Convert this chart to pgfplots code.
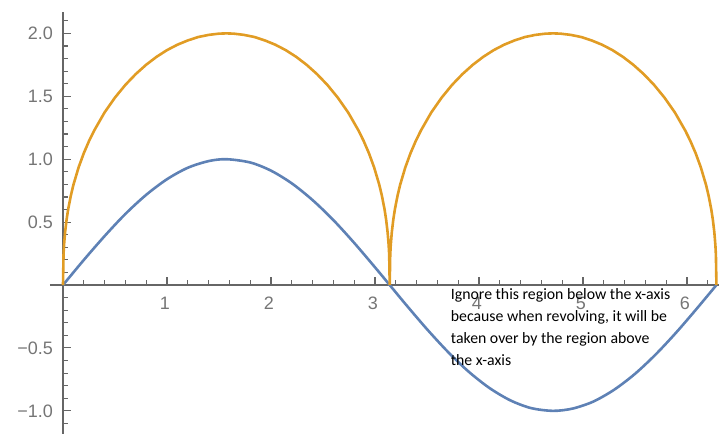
\documentclass[border=0pt]{standalone}
\usepackage{pgfplots}
\pgfplotsset{compat=1.18}
\usepackage{fontspec}
\setmainfont{Liberation Sans}
\newfontfamily\notefont{Carlito}
\definecolor{mblue}{HTML}{5E81B5}
\definecolor{morange}{HTML}{E19C24}
\definecolor{axgray}{HTML}{666666}
\definecolor{lblgray}{HTML}{757575}

\begin{document}
\begin{tikzpicture}
\begin{axis}[
  scale only axis,
  width=669pt, height=422pt,
  xmin=-0.125, xmax=6.308,
  ymin=-1.184, ymax=2.170,
  axis lines=middle,
  axis line style={-, axgray, line width=1.3pt},
  tick align=inside,
  major tick length=8pt, minor tick length=5pt,
  every tick/.style={axgray, line width=1.1pt},
  xtick={1,2,3,4,5,6},
  xticklabels={1,2,3,4,5,6},
  ytick={-1,-0.5,0.5,1,1.5,2},
  yticklabels={−1.0,−0.5,0.5,1.0,1.5,2.0},
  minor xtick={0.2,0.4,0.6,0.8,1.2,1.4,1.6,1.8,2.2,2.4,2.6,2.8,3.2,3.4,3.6,3.8,4.2,4.4,4.6,4.8,5.2,5.4,5.6,5.8,6.2},
  minor ytick={-1.1,-0.9,-0.8,-0.7,-0.6,-0.4,-0.3,-0.2,-0.1,0.1,0.2,0.3,0.4,0.6,0.7,0.8,0.9,1.1,1.2,1.3,1.4,1.6,1.7,1.8,1.9,2.1},
  ticklabel style={font=\fontsize{18}{20}\selectfont, text=lblgray, inner sep=0pt},
  xticklabel style={anchor=north, yshift=-12pt, xshift=-2pt},
  yticklabel style={anchor=east, xshift=-10pt},
]
  % sin x
  \addplot[mblue, line width=2.6pt, smooth] coordinates {
    (0,0) (0.2,0.199) (0.4,0.389) (0.6,0.565) (0.8,0.717) (1.0,0.841)
    (1.2,0.932) (1.4,0.985) (1.5708,1) (1.8,0.974) (2.0,0.909) (2.2,0.808)
    (2.4,0.675) (2.6,0.516) (2.8,0.335) (3.0,0.141) (3.1416,0)
    (3.3,-0.158) (3.5,-0.351) (3.7,-0.530) (3.9,-0.688) (4.1,-0.818)
    (4.3,-0.916) (4.5,-0.978) (4.7124,-1) (4.9,-0.982) (5.1,-0.926)
    (5.3,-0.832) (5.5,-0.706) (5.7,-0.551) (5.9,-0.374) (6.1,-0.182) (6.2832,0)
  };
  % upper curve, two arches
  \addplot[morange, line width=2.6pt] coordinates {
    (0,0) (0.005,0.240) (0.01,0.317) (0.02,0.418) (0.035,0.523) (0.05,0.603)
    (0.075,0.709) (0.1,0.796) (0.15,0.935) (0.2,1.048) (0.25,1.144) (0.3,1.228)
    (0.4,1.372) (0.5,1.490) (0.6,1.591) (0.7,1.677) (0.8,1.751) (0.9,1.814)
    (1.0,1.867) (1.1,1.910) (1.2,1.944) (1.3,1.971) (1.4,1.988) (1.5,1.998)
    (1.5708,2.0)
    (1.6416,1.998) (1.7416,1.988) (1.8416,1.971) (1.9416,1.944) (2.0416,1.910)
    (2.1416,1.867) (2.2416,1.814) (2.3416,1.751) (2.4416,1.677) (2.5416,1.591)
    (2.6416,1.490) (2.7416,1.372) (2.8416,1.228) (2.8916,1.144) (2.9416,1.048)
    (2.9916,0.935) (3.0416,0.796) (3.0666,0.709) (3.0916,0.603) (3.1066,0.523)
    (3.1216,0.418) (3.1316,0.317) (3.1366,0.240) (3.1416,0)
    (3.1466,0.240) (3.1516,0.317) (3.1616,0.418) (3.1766,0.523) (3.1916,0.603)
    (3.2166,0.709) (3.2416,0.796) (3.2916,0.935) (3.3416,1.048) (3.3916,1.144)
    (3.4416,1.228) (3.5416,1.372) (3.6416,1.490) (3.7416,1.591) (3.8416,1.677)
    (3.9416,1.751) (4.0416,1.814) (4.1416,1.867) (4.2416,1.910) (4.3416,1.944)
    (4.4416,1.971) (4.5416,1.988) (4.6416,1.998) (4.7124,2.0)
    (4.7832,1.998) (4.8832,1.988) (4.9832,1.971) (5.0832,1.944) (5.1832,1.910)
    (5.2832,1.867) (5.3832,1.814) (5.4832,1.751) (5.5832,1.677) (5.6832,1.591)
    (5.7832,1.490) (5.8832,1.372) (5.9832,1.228) (6.0332,1.144) (6.0832,1.048)
    (6.1332,0.935) (6.1832,0.796) (6.2082,0.709) (6.2332,0.603) (6.2482,0.523)
    (6.2632,0.418) (6.2732,0.317) (6.2782,0.240) (6.2832,0)
  };
  \node[anchor=north west, inner sep=0pt, align=left,
        font=\notefont\fontsize{15.8}{21.9}\selectfont]
    at (axis cs:3.728,-0.030)
    {Ignore this region below the x-axis\\because when revolving, it will be\\taken over by the region above\\the x-axis};
  \coordinate (bl) at (rel axis cs:0,0);
  \coordinate (tr) at (rel axis cs:1,1);
\end{axis}
\pgfresetboundingbox
\path[use as bounding box] ([xshift=-50pt]bl) rectangle ([yshift=12pt]tr);
\end{tikzpicture}
\end{document}
